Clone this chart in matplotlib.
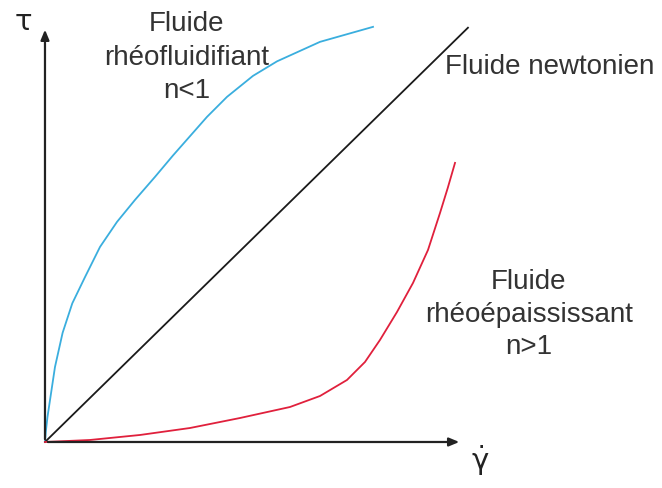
import numpy as np
import matplotlib.pyplot as plt

plt.rcParams['font.family'] = ['Liberation Sans', 'DejaVu Sans']
plt.rcParams['mathtext.fontset'] = 'dejavusans'

# shear rate / stress (arbitrary units)
x_rheofl = [0, 0.02, 0.06, 0.12, 0.238, 0.42, 0.65, 0.95, 1.31, 1.714, 2.143,
            2.619, 3.048, 3.857, 4.333, 4.952, 5.524, 6.548, 7.81]
y_rheofl = [0, 0.25, 0.6, 1.0, 1.786, 2.6, 3.3, 3.92, 4.643, 5.238, 5.762,
            6.31, 6.82, 7.738, 8.214, 8.714, 9.06, 9.524, 9.881]

x_newton = [0, 10.07]
y_newton = [0, 9.86]

x_rheoep = [0, 1.071, 2.262, 3.452, 4.643, 5.833, 6.548, 7.19, 7.619, 7.976, 8.381,
            8.762, 9.119, 9.405, 9.59, 9.762]
y_rheoep = [0, 0.048, 0.167, 0.333, 0.571, 0.833, 1.095, 1.476, 1.905, 2.429, 3.095,
            3.786, 4.571, 5.452, 6.05, 6.643]

labels_rheofl = ['Fluide', 'rhéofluidifiant', 'n<1']
labels_rheoep = ['Fluide', 'rhéoépaississant', 'n>1']

fig = plt.figure(figsize=(6.62, 4.88), dpi=100)
ax = fig.add_axes([0, 0, 1, 1])
ax.set_xlim(-1.071, 14.69)
ax.set_ylim(-1.095, 10.52)
ax.axis('off')

# axes with arrows
ax.annotate('', xy=(9.93, 0), xytext=(0, 0),
            arrowprops=dict(arrowstyle='-|>,head_length=0.6,head_width=0.25', color='#222222', lw=1.6))
ax.annotate('', xy=(0, 9.88), xytext=(0, 0),
            arrowprops=dict(arrowstyle='-|>,head_length=0.6,head_width=0.25', color='#222222', lw=1.6))

ax.plot(x_rheofl, y_rheofl, color='#3aaede', lw=1.3)
ax.plot(x_newton, y_newton, color='#1a1a1a', lw=1.3)
ax.plot(x_rheoep, y_rheoep, color='#e0203c', lw=1.3)

ax.text(-0.52, 10.0, r'$\mathrm{\tau}$', fontsize=21, ha='center', va='center', color='#222222')
ax.text(10.36, -0.45, r'$\dot{\mathrm{\gamma}}$', fontsize=21, ha='center', va='center', color='#222222')

for i, s in enumerate(labels_rheofl):
    ax.text(3.38, 9.95 - 0.8 * i, s, fontsize=20, ha='center', va='center', color='#333333')
for i, s in enumerate(labels_rheoep):
    ax.text(11.52, 3.81 - 0.78 * i, s, fontsize=20, ha='center', va='center', color='#333333')
ax.text(12.02, 8.93, 'Fluide newtonien', fontsize=20, ha='center', va='center', color='#333333')

fig.savefig('out.png', dpi=100)
